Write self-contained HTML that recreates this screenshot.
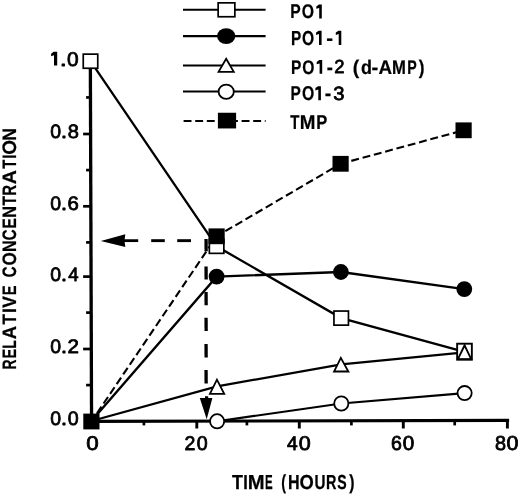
<!DOCTYPE html>
<html><head><meta charset="utf-8"><style>
html,body{margin:0;padding:0;background:#fff;width:520px;height:494px;overflow:hidden}
svg{display:block;filter:grayscale(1)}
text{font-family:"Liberation Sans",sans-serif;font-weight:bold;font-size:20.0px;fill:#000;text-rendering:geometricPrecision}
.g text{stroke:#000;stroke-width:0.25px;vector-effect:non-scaling-stroke;stroke-linejoin:round}
.g text.r{font-weight:normal;stroke-width:0.8px}
.d text{font-weight:normal;stroke:#000;stroke-width:0.8px;vector-effect:non-scaling-stroke;stroke-linejoin:round}
</style></head><body>
<svg width="520" height="494" viewBox="0 0 520 494">
<rect width="520" height="494" fill="#fff"/>
<g stroke="#000" fill="none" stroke-linecap="butt">
<line x1="90.34" y1="61" x2="91.57" y2="423" stroke-width="3.3"/>
<line x1="89.96" y1="421.40" x2="509.1" y2="420.35" stroke-width="3.1"/>
<line x1="86.1" y1="385.10" x2="91.44" y2="385.10" stroke-width="2.7"/>
<line x1="83.1" y1="349.00" x2="91.32" y2="349.00" stroke-width="2.7"/>
<line x1="86.1" y1="312.60" x2="91.20" y2="312.60" stroke-width="2.7"/>
<line x1="83.1" y1="276.60" x2="91.07" y2="276.60" stroke-width="2.7"/>
<line x1="86.1" y1="242.40" x2="90.96" y2="242.40" stroke-width="2.7"/>
<line x1="83.1" y1="206.30" x2="90.83" y2="206.30" stroke-width="2.7"/>
<line x1="86.1" y1="170.10" x2="90.71" y2="170.10" stroke-width="2.7"/>
<line x1="83.1" y1="134.00" x2="90.59" y2="134.00" stroke-width="2.7"/>
<line x1="86.1" y1="97.45" x2="90.47" y2="97.45" stroke-width="2.7"/>
<line x1="143.90" y1="421.26" x2="143.90" y2="425.4" stroke-width="2.7"/>
<line x1="196.80" y1="421.13" x2="196.80" y2="428.5" stroke-width="2.9"/>
<line x1="246.90" y1="421.00" x2="246.90" y2="425.4" stroke-width="2.7"/>
<line x1="299.30" y1="420.87" x2="299.30" y2="428.5" stroke-width="2.9"/>
<line x1="351.40" y1="420.74" x2="351.40" y2="425.4" stroke-width="2.7"/>
<line x1="403.30" y1="420.61" x2="403.30" y2="428.5" stroke-width="2.9"/>
<line x1="454.70" y1="420.48" x2="454.70" y2="425.4" stroke-width="2.7"/>
<line x1="507.40" y1="420.35" x2="507.40" y2="428.5" stroke-width="2.9"/>
<polyline points="217.1,421.3 341.3,403.5 464.6,393.1" fill="none" stroke-width="2.2" />
<polyline points="91.4,421.0 217.1,386.4 341.3,364.3 464.6,352.4" fill="none" stroke-width="2.2" />
<polyline points="91.4,421.0 216.6,276.6 340.9,272.0 464.3,289.1" fill="none" stroke-width="2.4" />
<polyline points="90.5,61.2 216.6,246.3 341.2,318.1 464.6,351.8" fill="none" stroke-width="2.3" />
<line x1="91.4" y1="421.5" x2="216.6" y2="236.3" stroke-width="2.1" stroke-dasharray="7.9 3.8" stroke-dashoffset="1.7"/>
<line x1="216.6" y1="236.3" x2="340.6" y2="163.8" stroke-width="2.1" stroke-dasharray="7.9 3.8" stroke-dashoffset="1.6"/>
<line x1="340.6" y1="163.8" x2="463.6" y2="130.3" stroke-width="2.1" stroke-dasharray="7.9 3.8" stroke-dashoffset="0.6"/>
<polyline points="124,240.65 138.2,240.65" fill="none" stroke-width="2.8"/>
<line x1="151.2" y1="240.65" x2="164.8" y2="240.65" stroke-width="2.9"/>
<line x1="177.2" y1="240.65" x2="191" y2="240.65" stroke-width="2.9"/>
<polygon points="100.8,240.9 125.3,234.3 124.5,240.7 125.3,247.0" fill="#000" stroke="none"/>
<line x1="206.05" y1="239" x2="206.15" y2="251.2" stroke-width="3.3"/>
<line x1="206.05" y1="266.4" x2="206.15" y2="279.5" stroke-width="3.3"/>
<line x1="206.05" y1="292.1" x2="206.15" y2="305.2" stroke-width="3.3"/>
<line x1="206.05" y1="317.7" x2="206.15" y2="331" stroke-width="3.3"/>
<line x1="206.05" y1="344.1" x2="206.15" y2="357.4" stroke-width="3.3"/>
<line x1="206.05" y1="370.1" x2="206.15" y2="383.4" stroke-width="3.3"/>
<polygon points="199.8,397.9 205,397.9 205,396.2 208.2,396.2 208.2,397.9 212.4,397.9 206.7,419.3" fill="#000" stroke="none"/>
<ellipse cx="217.1" cy="421.3" rx="7.10" ry="7.10" fill="#fff" stroke-width="1.8"/>
<ellipse cx="341.3" cy="403.5" rx="7.10" ry="7.10" fill="#fff" stroke-width="1.8"/>
<ellipse cx="464.6" cy="393.1" rx="7.10" ry="7.10" fill="#fff" stroke-width="1.8"/>
<polygon points="216.92,379.69 224.22,393.80 209.95,393.80" fill="#fff" stroke-width="1.8" stroke-linejoin="miter" stroke-miterlimit="10"/>
<polygon points="340.84,357.84 348.38,371.50 334.05,371.50" fill="#fff" stroke-width="1.8" stroke-linejoin="miter" stroke-miterlimit="10"/>
<ellipse cx="216.6" cy="276.6" rx="7.90" ry="7.90" fill="#000" stroke="none"/>
<ellipse cx="340.9" cy="272.0" rx="7.90" ry="7.90" fill="#000" stroke="none"/>
<ellipse cx="464.3" cy="289.1" rx="7.90" ry="7.90" fill="#000" stroke="none"/>
<rect x="83.25" y="54.15" width="14.50" height="14.10" fill="#fff" stroke-width="1.7"/>
<rect x="209.35" y="239.25" width="14.50" height="14.10" fill="#fff" stroke-width="1.7"/>
<rect x="333.95" y="311.05" width="14.50" height="14.10" fill="#fff" stroke-width="1.7"/>
<rect x="457.15" y="343.70" width="14.70" height="15.90" fill="#fff" stroke-width="1.9"/>
<polygon points="464.6,345.3 471.2,359.2 457.9,359.2" fill="none" stroke-width="1.9" stroke-linejoin="miter"/>
<rect x="83.30" y="413.60" width="16.20" height="15.80" fill="#000" stroke="none"/>
<rect x="208.50" y="228.40" width="16.20" height="15.80" fill="#000" stroke="none"/>
<rect x="332.50" y="155.90" width="16.20" height="15.80" fill="#000" stroke="none"/>
<rect x="455.50" y="122.40" width="16.20" height="15.80" fill="#000" stroke="none"/>
<line x1="183" y1="9.7" x2="265.6" y2="9.7" stroke-width="2.1"/>
<line x1="183" y1="36.15" x2="265.6" y2="36.15" stroke-width="2.1"/>
<line x1="183" y1="65.5" x2="265.6" y2="65.5" stroke-width="2.1"/>
<line x1="183" y1="91.5" x2="265.6" y2="91.5" stroke-width="2.1"/>
<line x1="183.6" y1="121.0" x2="265.6" y2="121.0" stroke-width="2.0" stroke-dasharray="7.9 3.7"/>
<rect x="218.15" y="2.85" width="16.70" height="13.90" fill="#fff" stroke-width="1.7"/>
<ellipse cx="226.2" cy="36.1" rx="9.15" ry="7.85" fill="#000" stroke="none"/>
<polygon points="226.15,58.80 233.74,71.90 218.56,71.90" fill="#fff" stroke-width="1.8" stroke-linejoin="miter" stroke-miterlimit="10"/>
<ellipse cx="226.2" cy="91.7" rx="7.60" ry="7.10" fill="#fff" stroke-width="1.8"/>
<rect x="217.90" y="112.75" width="18.20" height="15.70" fill="#000" stroke="none"/>
</g>
<g class="g">
<text transform="translate(290.28,18.38) scale(0.7819,0.9920)">P</text>
<text transform="translate(301.78,18.38) scale(0.7880,0.9920)">O</text>
<path d="M321.80,4.60 L321.80,18.50 L319.20,18.50 L319.20,8.00 L316.30,8.80 L316.30,6.50 L318.90,4.60 Z" stroke="none"/>
<text transform="translate(290.90,44.77) scale(0.7642,1.0138)">P</text>
<text transform="translate(302.08,44.77) scale(0.7808,1.0138)">O</text>
<path d="M321.60,30.70 L321.60,44.90 L319.00,44.90 L319.00,34.10 L316.10,34.90 L316.10,32.60 L318.70,30.70 Z" stroke="none"/>
<text transform="translate(326.13,44.77) scale(1.0142,1.0138)">-</text>
<path d="M341.30,30.70 L341.30,44.90 L338.70,44.90 L338.70,34.10 L335.80,34.90 L335.80,32.60 L338.40,30.70 Z" stroke="none"/>
<text transform="translate(290.89,73.67) scale(0.7731,0.9848)">P</text>
<text transform="translate(302.28,73.67) scale(0.7808,0.9848)">O</text>
<path d="M322.20,60.00 L322.20,73.80 L319.60,73.80 L319.60,63.40 L316.70,64.20 L316.70,61.90 L319.30,60.00 Z" stroke="none"/>
<text transform="translate(326.81,73.67) scale(0.9157,0.9848)">-</text>
<text class="r" transform="translate(334.37,73.40) scale(0.9219,0.9448)">2</text>
<text transform="translate(352.66,73.67) scale(0.9655,0.9848)">(</text>
<text transform="translate(360.89,73.67) scale(0.8980,0.9848)">d</text>
<text transform="translate(371.53,73.67) scale(1.0142,0.9848)">-</text>
<text transform="translate(378.56,73.67) scale(0.9428,0.9848)">A</text>
<text transform="translate(392.01,73.67) scale(0.8331,0.9848)">M</text>
<text transform="translate(407.27,73.67) scale(0.7112,0.9848)">P</text>
<text transform="translate(418.71,73.67) scale(0.8592,0.9848)">)</text>
<text transform="translate(290.59,100.08) scale(0.7731,0.9993)">P</text>
<text transform="translate(301.98,100.08) scale(0.7880,0.9993)">O</text>
<path d="M320.90,86.20 L320.90,100.20 L318.30,100.20 L318.30,89.60 L315.40,90.40 L315.40,88.10 L318.00,86.20 Z" stroke="none"/>
<text transform="translate(324.86,100.08) scale(0.9748,0.9993)">-</text>
<text class="r" transform="translate(333.23,99.80) scale(1.0124,0.9593)">3</text>
<text transform="translate(290.26,129.07) scale(0.7514,0.9993)">T</text>
<text transform="translate(299.77,129.07) scale(0.9403,0.9993)">M</text>
<text transform="translate(316.22,129.07) scale(0.8261,0.9993)">P</text>
<text transform="translate(231.92,488.57) scale(0.8958,1.0138)">T</text>
<text transform="translate(243.23,488.57) scale(0.8157,1.0138)">I</text>
<text transform="translate(247.67,488.57) scale(1.0118,1.0138)">M</text>
<text transform="translate(265.06,488.57) scale(0.5748,1.0138)">E</text>
<text transform="translate(281.21,488.57) scale(0.7175,1.0138)">(</text>
<text transform="translate(288.05,488.57) scale(0.8037,1.0138)">H</text>
<text transform="translate(299.47,488.57) scale(0.9175,1.0138)">O</text>
<text transform="translate(314.51,488.57) scale(0.7611,1.0138)">U</text>
<text transform="translate(325.96,488.57) scale(0.7207,1.0138)">R</text>
<text transform="translate(337.32,488.57) scale(0.7052,1.0138)">S</text>
<text transform="translate(349.31,488.57) scale(0.7884,1.0138)">)</text>
<text transform="translate(16.18,369.41) rotate(-90) scale(0.6971,0.9702)">R</text>
<text transform="translate(16.18,358.55) rotate(-90) scale(0.7263,0.9702)">E</text>
<text transform="translate(16.18,348.71) rotate(-90) scale(0.6966,0.9702)">L</text>
<text transform="translate(16.18,339.23) rotate(-90) scale(0.9204,0.9702)">A</text>
<text transform="translate(16.18,324.56) rotate(-90) scale(0.8448,0.9702)">T</text>
<text transform="translate(16.18,312.96) rotate(-90) scale(0.8852,0.9702)">I</text>
<text transform="translate(16.18,307.69) rotate(-90) scale(0.8686,0.9702)">V</text>
<text transform="translate(16.18,295.16) rotate(-90) scale(0.7352,0.9702)">E</text>
<text transform="translate(16.18,277.61) rotate(-90) scale(0.7686,0.9702)">C</text>
<text transform="translate(16.18,265.47) rotate(-90) scale(0.8527,0.9702)">O</text>
<text transform="translate(16.18,251.95) rotate(-90) scale(0.8037,0.9702)">N</text>
<text transform="translate(16.18,240.51) rotate(-90) scale(0.7686,0.9702)">C</text>
<text transform="translate(16.18,228.41) rotate(-90) scale(0.7709,0.9702)">E</text>
<text transform="translate(16.18,217.76) rotate(-90) scale(0.8122,0.9702)">N</text>
<text transform="translate(16.18,205.55) rotate(-90) scale(0.7769,0.9702)">T</text>
<text transform="translate(16.18,195.77) rotate(-90) scale(0.7444,0.9702)">R</text>
<text transform="translate(16.18,184.36) rotate(-90) scale(0.9800,0.9702)">A</text>
<text transform="translate(16.18,168.84) rotate(-90) scale(0.7514,0.9702)">T</text>
<text transform="translate(16.18,158.67) rotate(-90) scale(0.7463,0.9702)">I</text>
<text transform="translate(16.18,154.85) rotate(-90) scale(0.9463,0.9702)">O</text>
<text transform="translate(16.18,140.65) rotate(-90) scale(0.8803,0.9702)">N</text>
</g>
<g class="d">
<path d="M57.20,51.70 L57.20,65.60 L54.00,65.60 L54.00,55.30 L51.10,56.30 L51.10,53.70 L53.60,51.70 Z" stroke="none"/>
<text transform="translate(59.70,65.61) scale(1.2603,0.9887)">.</text>
<text transform="translate(66.98,65.61) scale(1.0460,0.9887)">0</text>
<text transform="translate(50.14,137.91) scale(0.9727,0.9675)">0</text>
<text transform="translate(60.69,137.91) scale(1.1553,0.9675)">.</text>
<text transform="translate(67.73,137.91) scale(1.0016,0.9675)">8</text>
<text transform="translate(50.14,210.21) scale(0.9727,0.9746)">0</text>
<text transform="translate(60.69,210.21) scale(1.1553,0.9746)">.</text>
<text transform="translate(67.57,210.21) scale(1.0186,0.9746)">6</text>
<text transform="translate(50.14,280.91) scale(0.9727,0.9675)">0</text>
<text transform="translate(60.69,280.91) scale(1.1553,0.9675)">.</text>
<text transform="translate(68.17,280.91) scale(0.9327,0.9675)">4</text>
<text transform="translate(50.14,352.91) scale(0.9727,0.9746)">0</text>
<text transform="translate(60.69,352.91) scale(1.1553,0.9746)">.</text>
<text transform="translate(67.56,352.91) scale(1.0317,0.9746)">2</text>
<text transform="translate(50.14,425.41) scale(0.9727,0.9746)">0</text>
<text transform="translate(60.69,425.41) scale(1.1553,0.9746)">.</text>
<text transform="translate(67.83,425.41) scale(0.9832,0.9746)">0</text>
<text transform="translate(86.13,450.31) scale(1.1192,0.9958)">0</text>
<text transform="translate(184.42,450.21) scale(0.9768,0.9887)">2</text>
<text transform="translate(196.73,450.21) scale(0.9832,0.9887)">0</text>
<text transform="translate(286.96,450.01) scale(0.9625,0.9887)">4</text>
<text transform="translate(298.76,450.01) scale(1.0773,0.9887)">0</text>
<text transform="translate(391.11,449.90) scale(0.9752,1.0099)">6</text>
<text transform="translate(402.79,449.90) scale(1.0355,1.0099)">0</text>
<text transform="translate(494.94,449.70) scale(0.9910,1.0099)">8</text>
<text transform="translate(506.46,449.70) scale(1.0773,1.0099)">0</text>
</g>
</svg>
</body></html>
